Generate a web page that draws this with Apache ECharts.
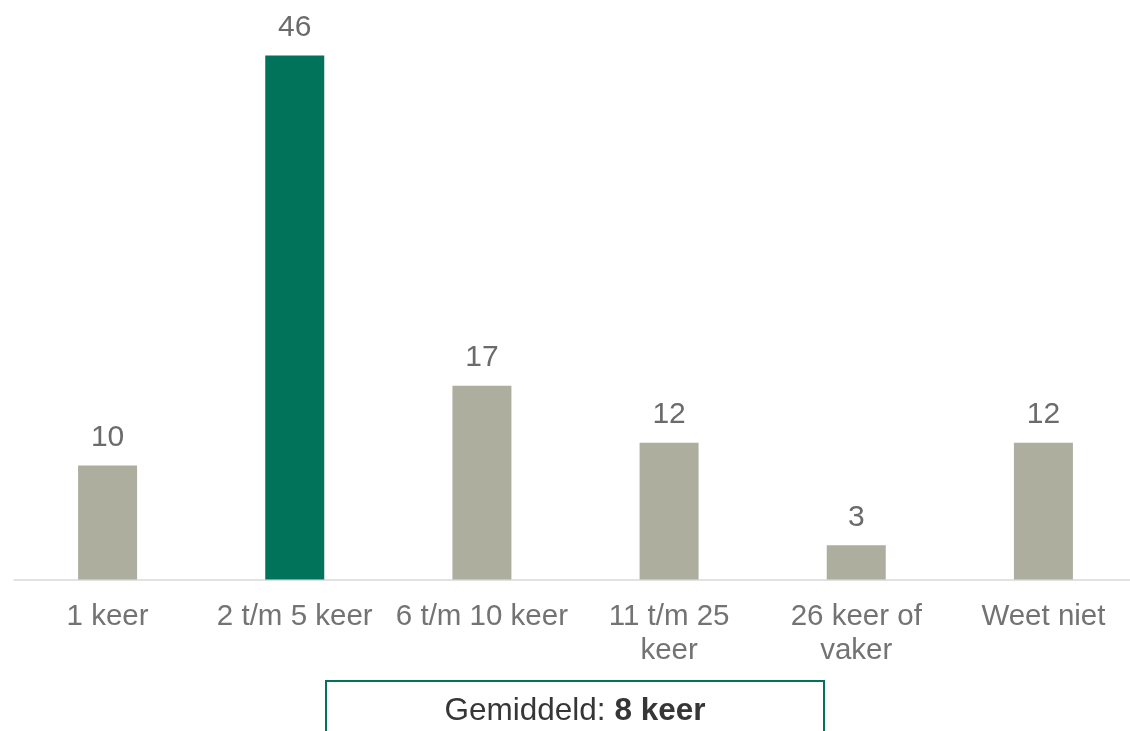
<!DOCTYPE html>
<html>
<head>
<meta charset="utf-8">
<script src="https://cdn.jsdelivr.net/npm/echarts@6/dist/echarts.min.js"></script>
<style>
html,body{margin:0;padding:0;background:#fff;overflow:hidden;}
#chart{width:1140px;height:731px;}
</style>
</head>
<body>
<div id="chart"></div>
<script>
const categories = ['1 keer', '2 t/m 5 keer', '6 t/m 10 keer', '11 t/m 25\nkeer', '26 keer of\nvaker', 'Weet niet'];
const values = [10, 46, 17, 12, 3, 12];
const highlightIndex = 1;
const averageLabel = 'Gemiddeld: ';
const averageValue = '8 keer';

const FONT = '"Liberation Sans", Arial, sans-serif';
const chart = echarts.init(document.getElementById('chart'), null, {renderer: 'canvas'});
chart.setOption({
  backgroundColor: '#ffffff',
  animation: false,
  grid: {left: 14, width: 1123, top: 10, bottom: 151.5, containLabel: false},
  xAxis: {
    type: 'category',
    data: categories,
    axisLine: {show: true, lineStyle: {color: '#d9d9d9', width: 1.5}},
    axisTick: {show: false},
    axisLabel: {
      interval: 0,
      color: '#737373',
      fontSize: 29.5,
      fontFamily: FONT,
      lineHeight: 34,
      margin: 20
    }
  },
  yAxis: {
    type: 'value',
    min: 0,
    max: 50,
    show: false,
    splitLine: {show: false}
  },
  series: [{
    type: 'bar',
    data: values,
    barWidth: 59,
    itemStyle: {
      color: function (p) { return p.dataIndex === highlightIndex ? '#00735a' : '#adae9e'; }
    },
    label: {
      show: true,
      position: 'top',
      distance: 13,
      color: '#6b6b6b',
      fontSize: 30,
      fontFamily: FONT
    }
  }],
  graphic: [
    {
      type: 'rect',
      shape: {x: 326, y: 681, width: 498, height: 120},
      style: {fill: '#ffffff', stroke: '#00735a', lineWidth: 2}
    },
    {
      type: 'text',
      x: 575,
      y: 711,
      style: {
        text: '{a|' + averageLabel + '}{b|' + averageValue + '}',
        align: 'center',
        verticalAlign: 'middle',
        rich: {
          a: {fontSize: 31.5, fontFamily: FONT, fill: '#363636', color: '#363636'},
          b: {fontSize: 31.5, fontFamily: FONT, fontWeight: 'bold', fill: '#363636', color: '#363636'}
        }
      }
    }
  ]
});
</script>
</body>
</html>
